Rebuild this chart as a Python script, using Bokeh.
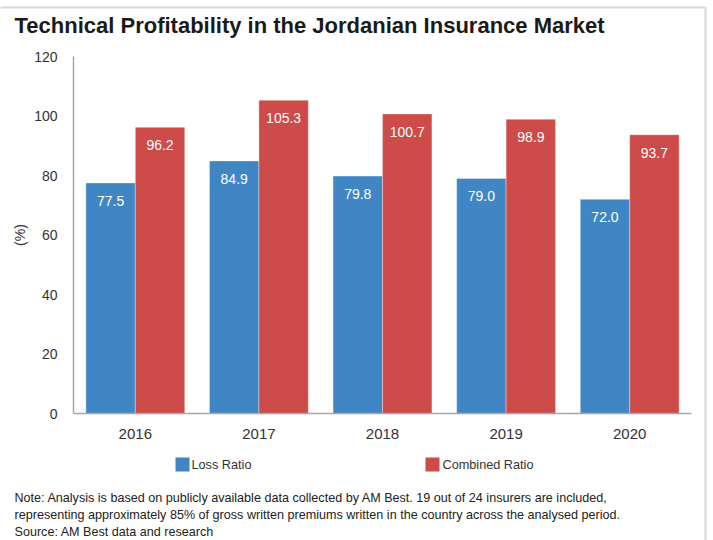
from bokeh.plotting import figure
from bokeh.models import Range1d, ColumnDataSource, Label, BoxAnnotation, FixedTicker, LinearAxis
from bokeh.transform import dodge
from bokeh.embed import file_html
from bokeh.resources import INLINE

# ---- data ----
years = ["2016", "2017", "2018", "2019", "2020"]
loss_ratio = [77.5, 84.9, 79.8, 79.0, 72.0]
combined_ratio = [96.2, 105.3, 100.7, 98.9, 93.7]
y_ticks = [0, 20, 40, 60, 80, 100, 120]
series_names = ["Loss Ratio", "Combined Ratio"]
title_text = "Technical Profitability in the Jordanian Insurance Market"
y_label = "(%)"
note_lines = [
    "Note: Analysis is based on publicly available data collected by AM Best. 19 out of 24 insurers are included,",
    "representing approximately 85% of gross written premiums written in the country across the analysed period.",
    "Source: AM Best data and research",
]

# ---- style / layout ----
BLUE = "#4086C5"
RED = "#CD4B48"
FONT = "Liberation Sans"
TXT = "#333333"

W, H = 713, 540
FL, FT, FR, FB = 73, 56, 22, 127          # chart area inside the figure (px)
NCAT = len(years)
YMAX = y_ticks[-1]
PX_X = (W - FL - FR) / NCAT
PX_Y = (H - FT - FB) / YMAX
X0, X1 = -FL / PX_X, NCAT + FR / PX_X
Y0, Y1 = -FB / PX_Y, YMAX + FT / PX_Y


def dx(px):
    return X0 + px / PX_X


def dy(py):
    return Y1 - py / PX_Y


xc = [i + 0.5 for i in range(NCAT)]
src = ColumnDataSource(dict(
    xc=xc,
    loss=loss_ratio,
    comb=combined_ratio,
    loss_lbl=[f"{v:.1f}" for v in loss_ratio],
    comb_lbl=[f"{v:.1f}" for v in combined_ratio],
))

p = figure(width=W, height=H, x_range=Range1d(X0, X1), y_range=Range1d(Y0, Y1),
           output_backend="svg", toolbar_location=None,
           x_axis_location=None, y_axis_location=None,
           min_border=0, min_border_left=0, min_border_right=0,
           min_border_top=0, min_border_bottom=0)
p.title.visible = False
p.xgrid.visible = False
p.ygrid.visible = False
p.outline_line_color = None

p.vbar(x=dodge("xc", -0.2), top="loss", width=0.4, source=src,
       fill_color=BLUE, line_color="white", line_alpha=0.35)
p.vbar(x=dodge("xc", 0.2), top="comb", width=0.4, source=src,
       fill_color=RED, line_color="white", line_alpha=0.35)

p.text(x=dodge("xc", -0.2), y="loss", text="loss_lbl", source=src,
       y_offset=18, text_align="center", text_baseline="middle", text_color="white",
       text_font_size="14px", text_font={"value": FONT})
p.text(x=dodge("xc", 0.2), y="comb", text="comb_lbl", source=src,
       y_offset=18, text_align="center", text_baseline="middle", text_color="white",
       text_font_size="14px", text_font={"value": FONT})

xaxis = LinearAxis(fixed_location=0, bounds=(0, NCAT), ticker=FixedTicker(ticks=xc),
                   major_label_overrides={x: y for x, y in zip(xc, years)})
yaxis = LinearAxis(fixed_location=0, bounds=(0, YMAX), ticker=FixedTicker(ticks=y_ticks),
                   axis_label=y_label)
p.add_layout(xaxis, "below")
p.add_layout(yaxis, "left")

for ax in (xaxis, yaxis):
    ax.axis_line_color = "#A8A8A8"
    ax.axis_line_width = 1.5
    ax.major_tick_line_color = None
    ax.minor_tick_line_color = None
    ax.major_label_text_font = FONT
    ax.major_label_text_color = TXT

xaxis.major_label_text_font_size = "15px"
xaxis.major_label_standoff = 9
yaxis.major_label_text_font_size = "14px"
yaxis.major_label_standoff = 10
yaxis.axis_label_text_font = FONT
yaxis.axis_label_text_font_size = "14px"
yaxis.axis_label_text_font_style = "normal"
yaxis.axis_label_text_color = TXT
yaxis.axis_label_standoff = 3

# outer frame lines (top and right edge visible in the reference)
p.add_layout(BoxAnnotation(left=dx(-20), right=dx(705), top=dy(7), bottom=dy(580),
                           fill_alpha=0, line_color="#7a7a7a", line_width=2))

# title
p.add_layout(Label(x=dx(14), y=dy(25), text=title_text, text_font=FONT, text_font_size="22px",
                   text_font_style="bold", text_color="#1a1a1a", text_baseline="middle"))

# legend
sq = 14
for name, color, sx, tx in [(series_names[0], BLUE, 175, 191), (series_names[1], RED, 425, 442)]:
    p.add_layout(BoxAnnotation(left=dx(sx), right=dx(sx + sq), top=dy(457), bottom=dy(457 + sq),
                               fill_color=color, fill_alpha=1, line_color=None))
    p.add_layout(Label(x=dx(tx), y=dy(464), text=name, text_font=FONT, text_font_size="12.7px",
                       text_color=TXT, text_baseline="middle"))

# notes
for i, line in enumerate(note_lines):
    p.add_layout(Label(x=dx(14), y=dy(497 + i * 17), text=line, text_font=FONT, text_font_size="12.6px",
                       text_color="#222222", text_baseline="middle"))

open("out.html", "w").write(file_html(p, INLINE))
